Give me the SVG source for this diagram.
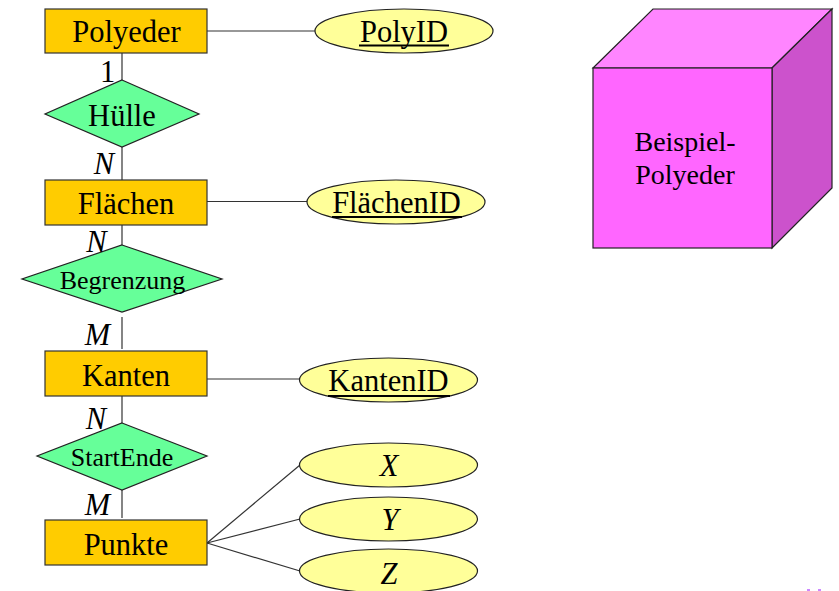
<svg xmlns="http://www.w3.org/2000/svg" width="839" height="591" viewBox="0 0 839 591">
<style>
text{font-family:"Liberation Serif","Times New Roman",serif;fill:#000;text-anchor:middle}
.e{fill:#fc0;stroke:#333;stroke-width:1.2}
.r{fill:#6f9;stroke:#222;stroke-width:1.2}
.a{fill:#ff9;stroke:#222;stroke-width:1.2}
.t{font-size:30.500px}
.s{font-size:26px}
.i{font-size:30.500px;font-style:italic}
.u{stroke:#000;stroke-width:2}
#connectors line{stroke:#333;stroke-width:1.2}
</style>
<rect width="839" height="591" fill="#fff"/>
<g id="connectors">
<line x1="207" y1="31" x2="315" y2="31"/>
<line x1="207" y1="201.500" x2="307" y2="201.500"/>
<line x1="207" y1="379" x2="300" y2="379"/>
<line x1="122" y1="53" x2="122" y2="80"/>
<line x1="122" y1="147" x2="122" y2="180"/>
<line x1="122" y1="225" x2="122" y2="245"/>
<line x1="122" y1="317" x2="122" y2="349"/>
<line x1="122" y1="394" x2="122" y2="423"/>
<line x1="122" y1="490" x2="122" y2="518"/>
<line x1="207" y1="543" x2="300" y2="465"/>
<line x1="207" y1="543" x2="300" y2="519"/>
<line x1="207" y1="543" x2="300" y2="571"/>
</g>
<g id="polyeder"><rect class="e" x="45" y="9" width="162" height="44"/><text class="t" x="126.500" y="42">Polyeder</text></g>
<g id="huelle"><polygon class="r" points="122,80 199,114 122,147 45,114"/><text class="t" x="122" y="126">Hülle</text></g>
<g id="flaechen"><rect class="e" x="45" y="180" width="162" height="45"/><text class="t" x="126" y="214">Flächen</text></g>
<g id="begrenzung"><polygon class="r" points="122,245 222,279 122,312 22,279"/><text class="s" x="122.500" y="289">Begrenzung</text></g>
<g id="kanten"><rect class="e" x="45" y="351" width="162" height="45"/><text class="t" x="126" y="386">Kanten</text></g>
<g id="startende"><polygon class="r" points="122,423 207,456 122,490 37,456"/><text class="s" x="122" y="466">StartEnde</text></g>
<g id="punkte"><rect class="e" x="45" y="520" width="162" height="45"/><text class="t" x="126" y="555">Punkte</text></g>
<g id="polyid"><ellipse class="a" cx="404" cy="31" rx="89" ry="22"/><text class="t" x="404" y="42">PolyID</text><line class="u" x1="359" y1="45.500" x2="449" y2="45.500"/></g>
<g id="flaechenid"><ellipse class="a" cx="396" cy="202" rx="89" ry="22"/><text class="t" x="396.500" y="213">FlächenID</text><line class="u" x1="332" y1="217" x2="462" y2="217"/></g>
<g id="kantenid"><ellipse class="a" cx="388.500" cy="380" rx="89" ry="22"/><text class="t" x="388.500" y="391">KantenID</text><line class="u" x1="328" y1="396" x2="450" y2="396"/></g>
<g id="x"><ellipse class="a" cx="388.500" cy="465" rx="89" ry="22"/><text class="i" x="389" y="476">X</text></g>
<g id="y"><ellipse class="a" cx="388.500" cy="519" rx="89" ry="22"/><text class="i" x="390" y="530">Y</text></g>
<g id="z"><ellipse class="a" cx="388.500" cy="571" rx="89" ry="22"/><text class="i" x="389" y="584">Z</text></g>
<g id="labels">
<text class="t" x="107.500" y="82">1</text>
<text class="i" x="104" y="174">N</text>
<text class="i" x="96.500" y="252">N</text>
<text class="i" x="97.500" y="345">M</text>
<text class="i" x="96" y="429">N</text>
<text class="i" x="97.500" y="515">M</text>
</g>
<g id="beispiel">
<polygon points="593,68 653,9 832,9 772,68" fill="#ff85ff" stroke="#222" stroke-width="1.2"/>
<polygon points="772,68 832,9 832,188 772,248" fill="#cc52cc" stroke="#222" stroke-width="1.2"/>
<rect x="593" y="68" width="179" height="180" fill="#f6f" stroke="#222" stroke-width="1.2"/>
<text x="685" y="151" font-size="28">Beispiel-</text>
<text x="685" y="184" font-size="28">Polyeder</text>
</g>
<g fill="#c8f"><rect x="807" y="589" width="3" height="2"/><rect x="818" y="589" width="3" height="2"/></g>
</svg>
